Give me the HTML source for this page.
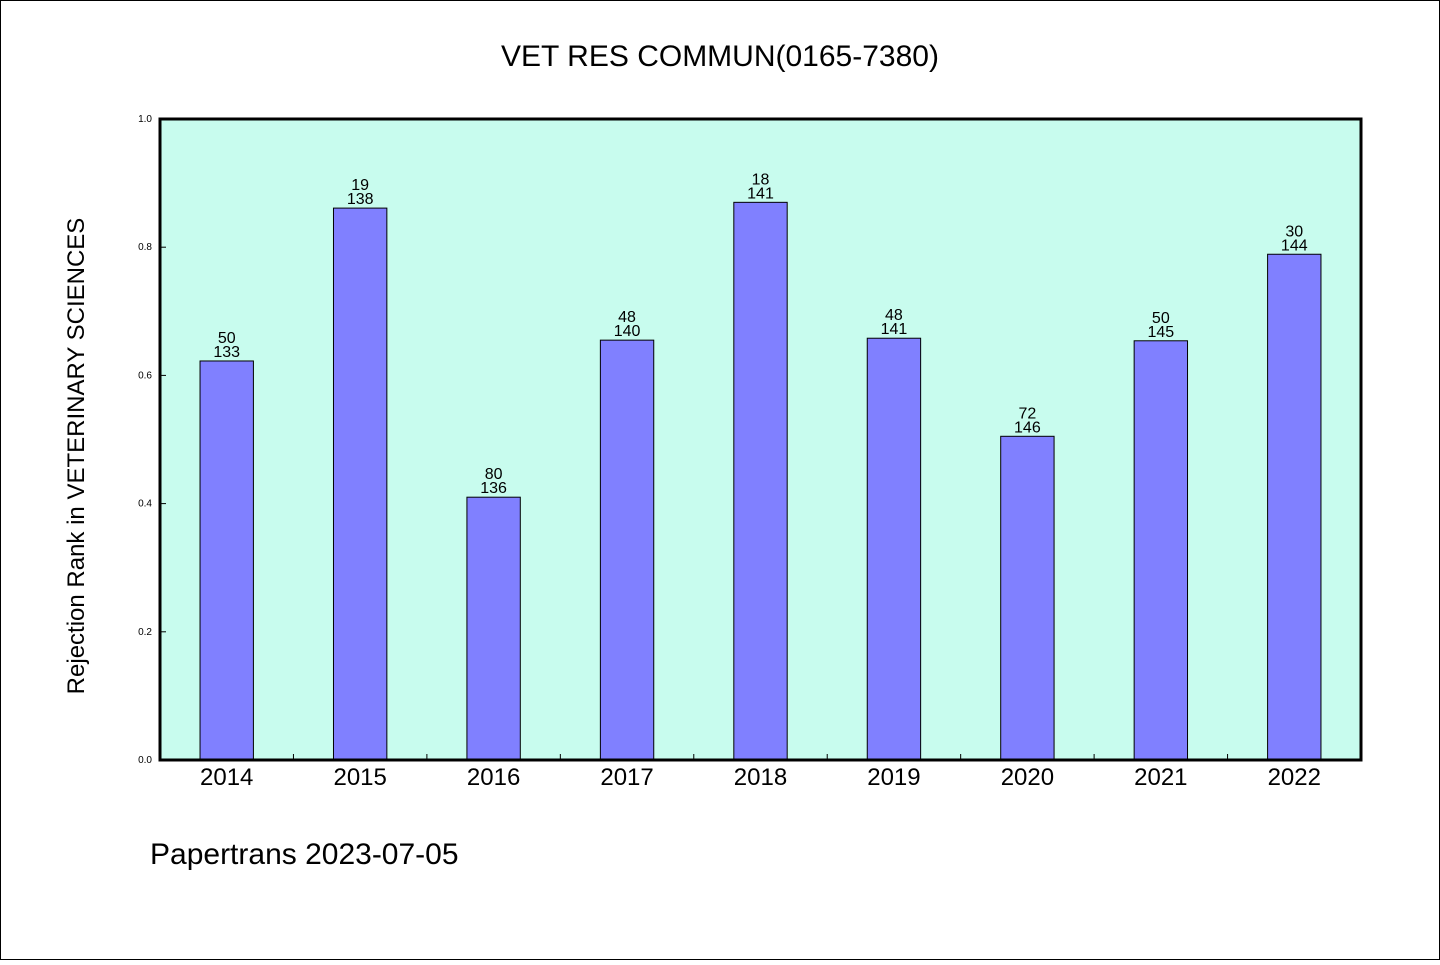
<!DOCTYPE html>
<html><head><meta charset="utf-8"><style>
body{margin:0;background:#fff}
svg text{font-family:"WenQuanYi Zen Hei","Liberation Sans",sans-serif}
</style></head><body>
<svg id="chart" width="1440" height="960" xmlns="http://www.w3.org/2000/svg">
<rect x="0.5" y="0.5" width="1439" height="959" fill="#fff" stroke="#000"/>
<text x="720" y="66" font-size="30" text-anchor="middle">VET RES COMMUN(0165-7380)</text>
<rect x="160" y="119" width="1201" height="641" fill="#c8fcee"/>
<g id="bars"></g>
<rect x="160" y="119" width="1201" height="641" fill="none" stroke="#000" stroke-width="3"/>
<text transform="translate(84,456) rotate(-90)" font-size="24" text-anchor="middle">Rejection Rank in VETERINARY SCIENCES</text>
<text x="150" y="864" font-size="30">Papertrans 2023-07-05</text>
</svg>
<script>
const categories=["2014","2015","2016","2017","2018","2019","2020","2021","2022"];
const values=[0.6225,0.861,0.41,0.655,0.870,0.658,0.505,0.654,0.789];
const rankLabels=["50","19","80","48","18","48","72","50","30"];
const totalLabels=["133","138","136","140","141","141","146","145","144"];
const yTicks=[0,0.2,0.4,0.6,0.8,1.0];
const X0=160,W=1201,Y0=760,H=641;
const slot=W/categories.length;
const xs=i=>X0+slot*(i+0.5);
const ys=v=>Y0-v*H;
const ns="http://www.w3.org/2000/svg";
const g=document.getElementById('bars');
function mk(t,a){const e=document.createElementNS(ns,t);for(const k in a)e.setAttribute(k,a[k]);g.appendChild(e);return e;}
yTicks.forEach(v=>{
 const l=mk('line',{x1:X0,x2:X0+6,y1:ys(v),y2:ys(v),stroke:'#000'});
 
 
 const t=mk('text',{x:X0-8,y:ys(v)+3,'font-size':10,'text-anchor':'end'});
 t.textContent=v.toFixed(1);
 
 
});
for(let i=1;i<categories.length;i++){
 const l=mk('line',{x1:X0+slot*i,x2:X0+slot*i,y1:Y0,y2:Y0-6,stroke:'#000'});
 
 
}
categories.forEach((c,i)=>{
 const bw=slot*0.4,x=xs(i)-bw/2,y=ys(values[i]);
 const r=mk('rect',{x:x,y:y,width:bw,height:Y0-y,fill:'#8080ff',stroke:'#000','stroke-width':1});
 
 
 const t1=mk('text',{x:xs(i),y:y-18,'font-size':16,'text-anchor':'middle'});
 t1.textContent=rankLabels[i];
 
 
 const t2=mk('text',{x:xs(i),y:y-4,'font-size':16,'text-anchor':'middle'});
 t2.textContent=totalLabels[i];
 
 
 const xl=mk('text',{x:xs(i),y:785,'font-size':24,'text-anchor':'middle'});
 xl.textContent=c;
 
 
});
</script>
</body></html>
